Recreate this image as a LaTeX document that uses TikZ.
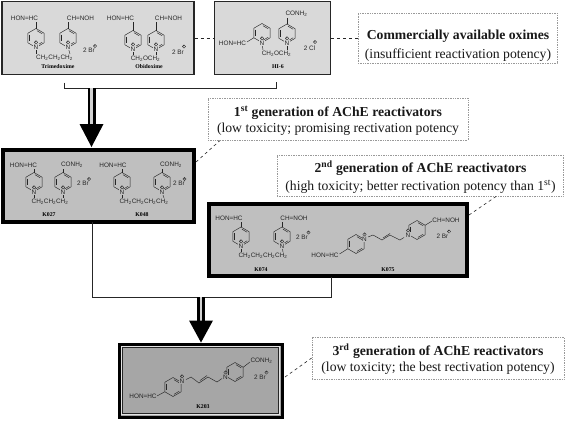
\documentclass[tikz,border=0pt]{standalone}
\usepackage{fontspec}
\setmainfont{Liberation Serif}
\newfontfamily\chemfont{Liberation Sans}
\usetikzlibrary{arrows.meta,calc}
\definecolor{boxA}{HTML}{D9D9D9}
\definecolor{boxB}{HTML}{BFBFBF}
\definecolor{boxC}{HTML}{A6A6A6}
\definecolor{ink}{HTML}{262626}
\tikzset{
  boxnode/.style={draw=ink,rectangle,inner sep=0pt},
  thinbox/.style={boxnode,line width=1.4pt,fill=boxA},
  thickbox/.style={boxnode,draw=black,line width=4pt,fill=boxB},
  note/.style={draw=gray!80,densely dotted,line width=0.7pt,fill=white,inner sep=0pt},
  notetext/.style={inner sep=0pt,align=center,text=black!90},
  link/.style={draw=ink,dashed,line width=0.8pt},
  bracket/.style={draw=ink,line width=0.9pt},
  bigshaft/.style={draw=black,line width=8pt},
  midshaft/.style={draw=white!65!gray,line width=2.6pt},
  bighead/.style={fill=black},
  bond/.style={draw=ink,line width=0.45pt},
  chem/.style={font=\chemfont\fontsize{6.4}{7}\selectfont,text=ink,inner sep=0pt},
  cpdname/.style={font=\bfseries\fontsize{5.8}{6}\selectfont,text=black,inner sep=0pt},
}
\newcounter{tn}
\newcommand{\chem}[3]{\stepcounter{tn}\node[chem] (t\arabic{tn}) at (#1,#2) {#3};}
\newcommand{\cname}[3]{\stepcounter{tn}\node[cpdname] (t\arabic{tn}) at (#1,#2) {#3};}
\newcommand{\cplus}[3]{\stepcounter{tn}\node[circle,draw=ink,line width=0.3pt,inner sep=0pt,minimum size=3.4pt,fill=#3,font=\chemfont\fontsize{3.6}{3.6}\selectfont,text=black] (t\arabic{tn}) at (#1,#2) {+};}
\newcommand{\pyr}[2]{%
  \draw[bond] (#1,#2-9.5) -- (#1+8.2,#2-4.75) -- (#1+8.2,#2+4.75) -- (#1,#2+9.5) -- (#1-8.2,#2+4.75) -- (#1-8.2,#2-4.75) -- cycle;
  \draw[bond] (#1-6.4,#2-3.4) -- (#1-6.4,#2+3.4);
  \draw[bond] (#1+1,#2-7.3) -- (#1+6.2,#2-4.2);
  \draw[bond] (#1+1,#2+7.3) -- (#1+6.2,#2+4.2);
}
\newcommand{\Nat}[3]{\stepcounter{tn}\node[chem,fill=#3,inner sep=0.5pt] (t\arabic{tn}) at (#1,#2) {N};\cplus{#1}{#2-4.6}{#3}}
\newcommand{\sub}{\textsubscript{2}}
\begin{document}
\begin{tikzpicture}[x=1pt,y=-1pt]
\useasboundingbox (0,0) rectangle (567,421);
% boxes
\node[thinbox,minimum width=192pt,minimum height=73pt] (A) at (98,38) {};
\node[thinbox,minimum width=116pt,minimum height=73pt] (B) at (272.5,38) {};
\node[thickbox,minimum width=191pt,minimum height=72pt] (E) at (98.5,186) {};
\node[thickbox,minimum width=258pt,minimum height=72pt] (G) at (338,240) {};
\node[boxnode,draw=black,line width=3pt,fill=boxC,minimum width=163pt,minimum height=73pt] (H) at (200.5,380.5) {};
\node[draw=white!80!gray,line width=1pt,minimum width=158.5pt,minimum height=68.5pt,inner sep=0pt] (Hi) at (H.center) {};
\node[draw=ink,line width=0.8pt,minimum width=155.5pt,minimum height=65.5pt,inner sep=0pt] (Hii) at (H.center) {};
% notes
\node[note,minimum width=199pt,minimum height=50pt] (C) at (457.5,38) {};
\node[note,minimum width=260pt,minimum height=42pt] (D) at (338,119) {};
\node[note,minimum width=286pt,minimum height=41pt] (F) at (420,175.5) {};
\node[note,minimum width=252pt,minimum height=42pt] (I) at (438,358) {};
\node[notetext,font=\fontsize{13.7}{19}\selectfont] (Ct) at (458,45.5) {\textbf{Commercially available oximes}\\(insufficient reactivation potency)};
\node[notetext,font=\fontsize{13.7}{15.5}\selectfont] (Dt) at (338,120.5) {\textbf{1\textsuperscript{st} generation of AChE reactivators}\\(low toxicity; promising rectivation potency};
\node[notetext,font=\fontsize{13.7}{18}\selectfont] (Ft) at (420.5,177) {\textbf{2\textsuperscript{nd} generation of AChE reactivators}\\(high toxicity; better rectivation potency than 1\textsuperscript{st})};
\node[notetext,font=\fontsize{13.7}{16}\selectfont] (It) at (438,359) {\textbf{3\textsuperscript{rd} generation of AChE reactivators}\\(low toxicity; the best rectivation potency)};
% links
\draw[link] (A.east) -- (B.west);
\draw[link] (B.east) -- (C.west);
\coordinate (Eup) at (196,162); \coordinate (Dlo) at (220,140.5);
\coordinate (Gup) at (469,215); \coordinate (Flo) at (496,196.5);
\coordinate (Hup) at (285,377);
\draw[link,line width=0.6pt] (Eup) -- (Dlo);
\draw[link,line width=0.6pt] (Gup) -- (Flo);
\draw[link,line width=0.6pt] (Hup) -- (I.west);
% brackets and arrows
\coordinate (b1a) at (64,82.5); \coordinate (b1b) at (64,88); \coordinate (b1c) at (276,88); \coordinate (b1d) at (276,82);
\coordinate (b1m) at (91.5,88);
\draw[bracket] (b1a) -- (b1b) -- (b1c) -- (b1d);
\coordinate (b2a) at (92,222); \coordinate (b2b) at (92,297); \coordinate (b2c) at (331,297); \coordinate (b2d) at (331,277);
\coordinate (b2m) at (201,297);
\draw[bracket] (b2a) -- (b2b) -- (b2c) -- (b2d);
\coordinate (h1) at (91.5,147); \coordinate (h2) at (201,342.5);
\draw[bigshaft] (b1m) -- ($(h1)+(0,-20)$);
\draw[midshaft] (b1m) -- ($(h1)+(0,-20)$);
\fill[bighead] (h1) -- ++(-12,-23) -- ++(24,0) -- cycle;
\draw[bigshaft] (b2m) -- ($(h2)+(0,-20)$);
\draw[midshaft] (b2m) -- ($(h2)+(0,-20)$);
\fill[bighead] (h2) -- ++(-12,-22) -- ++(24,0) -- cycle;

% --- Trimedoxime
\pyr{36}{38}\pyr{68}{38}
\draw[bond] (36,28.5)--(36,22); \draw[bond] (68,28.5)--(68,22);
\draw[bond] (36,47)--(36,54); \draw[bond] (68,47)--(70,54);
\Nat{36}{47}{boxA}\Nat{68}{47}{boxA}
\chem{24.5}{18}{HON=HC}\chem{80.5}{18}{CH=NOH}
\chem{54.5}{58}{CH\sub CH\sub CH\sub}
\chem{89}{50}{2 Br}\cplus{95}{46}{boxA}
\cname{58}{67}{Trimedoxime}
% --- Obidoxime
\pyr{133}{40}\pyr{156}{40}
\draw[bond] (133,30.5)--(133,22); \draw[bond] (156,30.5)--(156,22);
\draw[bond] (133,49)--(133,55); \draw[bond] (156,49)--(156,55);
\Nat{133}{49}{boxA}\Nat{156}{49}{boxA}
\chem{120.5}{18}{HON=HC}\chem{168.5}{18}{CH=NOH}
\chem{145.5}{58.5}{CH\sub OCH\sub}
\chem{178}{52}{2 Br}\cplus{184}{46.5}{boxA}
\cname{149}{67}{Obidoxime}
% --- HI-6
\pyr{262}{33}\pyr{287}{33.5}
\draw[bond] (253.8,37.75)--(247,42); \draw[bond] (287,24)--(287,18);
\draw[bond] (262,43)--(263,50); \draw[bond] (287,43)--(287,50);
\Nat{262}{43}{boxA}\Nat{287}{43}{boxA}
\chem{232.5}{43}{HON=HC}\chem{296.5}{14}{CONH\sub}
\chem{276.5}{54}{CH\sub OCH\sub}
\chem{309.5}{48}{2 Cl}\cplus{315}{42}{boxA}
\cname{278}{67}{HI-6}
% --- K027
\pyr{34}{182}\pyr{63}{182}
\draw[bond] (34,172.5)--(34,169); \draw[bond] (63,172.5)--(63,169);
\draw[bond] (34,192)--(34,198); \draw[bond] (63,192)--(63,198);
\Nat{34}{192}{boxB}\Nat{63}{192}{boxB}
\chem{23.5}{165}{HON=HC}\chem{72}{165}{CONH\sub}
\chem{83}{183}{2 Br}\cplus{89}{179}{boxB}
\chem{50}{201.5}{CH\sub CH\sub CH\sub}
\cname{49}{215}{K027}
% --- K048
\pyr{122}{182}\pyr{162}{182}
\draw[bond] (122,172.5)--(122,169); \draw[bond] (162,172.5)--(162,169);
\draw[bond] (122,192)--(122,198); \draw[bond] (162,192)--(164,198);
\Nat{122}{192}{boxB}\Nat{162}{192}{boxB}
\chem{113}{165}{HON=HC}\chem{171}{165}{CONH\sub}
\chem{179}{183}{2 Br}\cplus{184.5}{179}{boxB}
\chem{144}{201.5}{CH\sub CH\sub CH\sub CH\sub}
\cname{142}{215}{K048}
% --- K074
\pyr{241}{236.5}\pyr{282}{236.5}
\draw[bond] (241,227)--(241,222); \draw[bond] (282,227)--(282,222);
\draw[bond] (241,246)--(241,252); \draw[bond] (282,246)--(283,252);
\Nat{241}{246}{boxB}\Nat{282}{246}{boxB}
\chem{229}{218}{HON=HC}\chem{294}{218}{CH=NOH}
\chem{302}{237}{2 Br}\cplus{308.5}{232.5}{boxB}
\chem{263}{256}{CH\sub CH\sub CH\sub CH\sub}
\cname{261}{270}{K074}
% --- K075
\pyr{356}{244}\pyr{417}{230}
\draw[bond] (347.8,248.75)--(339.5,254);
\draw[bond] (425.2,225.25)--(432,221);
\draw[bond] (368,237)--(373,235)--(382,240)--(390,235)--(400,240)--(404,237.5);
\draw[bond] (383,238)--(390,233.5);
\Nat{364.5}{239}{boxB}\Nat{408}{235}{boxB}
\chem{325}{255}{HON=HC}\chem{446}{220}{CH=NOH}
\chem{442.5}{236}{2 Br}\cplus{449}{231.5}{boxB}
\cname{388}{270}{K075}
% --- K203
\pyr{173}{387}\pyr{235}{372}
\draw[bond] (164.8,391.75)--(157,396);
\draw[bond] (243.2,367.25)--(250,362);
\draw[bond] (186,379.5)--(191,377)--(199,383)--(208,377)--(217,382)--(222,378.5);
\draw[bond] (200,380.5)--(207,375.5);
\Nat{182}{381}{boxC}\Nat{225.5}{377}{boxC}
\chem{143}{396}{HON=HC}\chem{261.5}{361}{CONH\sub}
\chem{260}{377}{2 Br}\cplus{266.5}{372.5}{boxC}
\cname{203}{407}{K203}
\end{tikzpicture}
\end{document}
